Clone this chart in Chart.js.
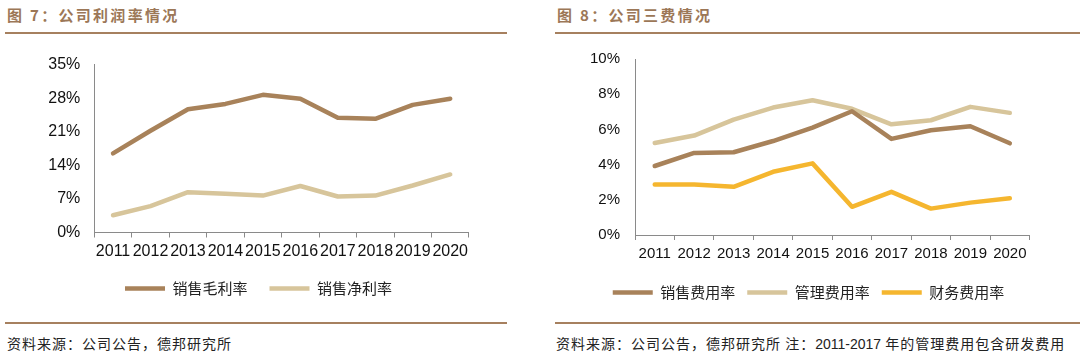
<!DOCTYPE html>
<html><head><meta charset="utf-8">
<script src="https://cdn.jsdelivr.net/npm/chart.js@4"></script>
<style>
body{margin:0;width:1080px;height:357px;background:#fff;position:relative;overflow:hidden;font-family:"Noto Sans CJK SC",sans-serif}
.title{position:absolute;top:4px;line-height:22px;font-size:15px;font-weight:bold;color:#9C7757;letter-spacing:2.3px;white-space:nowrap}
.rule{position:absolute;height:2px;background:#A6805F}
.src{position:absolute;top:333px;line-height:20px;font-size:14px;color:#222;letter-spacing:1px;white-space:nowrap}
.src .num{font-family:"Liberation Sans",Arial,sans-serif;letter-spacing:0}
.box{position:absolute}
</style></head>
<body>
<div class="title" style="left:7px">图 7：公司利润率情况</div>
<div class="rule" style="left:5px;top:32px;width:502px"></div>
<div class="title" style="left:557px">图 8：公司三费情况</div>
<div class="rule" style="left:555px;top:32px;width:525px"></div>

<div class="box" style="left:45px;top:41px;width:427px;height:265px"><canvas id="c1"></canvas></div>
<div class="box" style="left:586px;top:35px;width:445px;height:275px"><canvas id="c2"></canvas></div>

<div class="rule" style="left:5px;top:322px;width:502px"></div>
<div class="rule" style="left:555px;top:322px;width:525px"></div>
<div class="src" style="left:7px">资料来源：公司公告，德邦研究所</div>
<div class="src" style="left:556px">资料来源：公司公告，德邦研究所 注：<span class="num">2011-2017</span> 年的管理费用包含研发费用</div>

<script>
const years = ['2011','2012','2013','2014','2015','2016','2017','2018','2019','2020'];
const grossMargin = [16.5,21.2,25.7,26.8,28.7,27.9,23.9,23.7,26.6,27.9];
const netMargin   = [3.6,5.5,8.4,8.1,7.7,9.7,7.5,7.7,9.8,12.1];
const profitNames = ['销售毛利率','销售净利率'];
const profitTicks = [0,7,14,21,28,35];

const sellingRate = [3.92,4.66,4.70,5.34,6.10,7.03,5.46,5.95,6.18,5.21];
const adminRate   = [5.23,5.65,6.56,7.24,7.66,7.17,6.29,6.52,7.28,6.94];
const financeRate = [2.87,2.87,2.74,3.59,4.07,1.60,2.45,1.50,1.84,2.09];
const expenseNames = ['销售费用率','管理费用率','财务费用率'];
const expenseTicks = [0,2,4,6,8,10];

const BROWN = '#A8825A', LIGHT = '#D7C59B', YELLOW = '#F5B62F';
const AXIS = '#8a8a8a';
const TICKFONT = '"Liberation Sans", Arial, sans-serif';

function ds(label, data, color){
  return {label, data, borderColor: color, backgroundColor: color, borderWidth: 4.5,
    pointRadius: 0, pointHoverRadius: 0, tension: 0, fill: false,
    borderCapStyle: 'round', borderJoinStyle: 'round'};
}

function makeChart(id, datasets, tickVals, cfg){
  const max = tickVals[tickVals.length-1];
  const step = tickVals[1]-tickVals[0];
  return new Chart(document.getElementById(id), {
    type: 'line',
    data: {labels: years, datasets},
    options: {
      responsive: true, maintainAspectRatio: false, animation: false,
      layout: {padding: 0},
      plugins: {
        tooltip: {enabled: false},
        legend: {
          display: true, position: 'bottom', align: 'center',
          labels: {usePointStyle: true, pointStyle: 'line', pointStyleWidth: 40, boxWidth: 40,
            padding: cfg.legendPad, color: '#222',
            font: {family: '"Noto Sans CJK SC", sans-serif', size: 15}}
        }
      },
      scales: {
        x: {
          type: 'category', offset: true,
          grid: {display: true, offset: true, drawOnChartArea: false, drawTicks: true, tickLength: 5, color: AXIS},
          border: {display: true, color: AXIS, width: 1},
          ticks: {color: '#111', padding: cfg.xPad, maxRotation: 0, minRotation: 0, autoSkip: false,
            font: {family: TICKFONT, size: cfg.fontSize}},
          afterFit: s => { s.height = cfg.xHeight; }
        },
        y: {
          min: 0, max: max,
          grid: {display: false, drawTicks: false},
          border: {display: true, color: AXIS, width: 1},
          ticks: {stepSize: step, color: '#111', padding: cfg.yPad,
            font: {family: TICKFONT, size: cfg.fontSize},
            callback: v => v + '%'},
          afterFit: s => { s.width = cfg.yWidth; }
        }
      }
    }
  });
}

makeChart('c1', [ds(profitNames[0], grossMargin, BROWN), ds(profitNames[1], netMargin, LIGHT)], profitTicks,
  {legendPad: 22, xPad: 4, xHeight: 26.5, yPad: 14, yWidth: 49.3, fontSize: 16});
makeChart('c2', [ds(expenseNames[0], sellingRate, BROWN), ds(expenseNames[1], adminRate, LIGHT), ds(expenseNames[2], financeRate, YELLOW)], expenseTicks,
  {legendPad: 12, xPad: 4.5, xHeight: 38, yPad: 15, yWidth: 49, fontSize: 15});
</script>
</body></html>
